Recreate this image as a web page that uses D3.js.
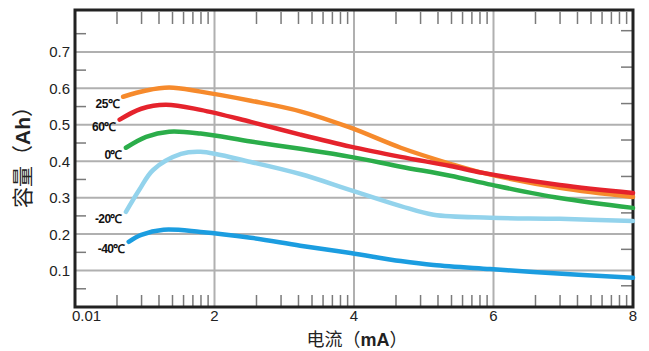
<!DOCTYPE html>
<html>
<head>
<meta charset="utf-8">
<script src="https://cdn.jsdelivr.net/npm/d3@7"></script>
<style>
  body { margin: 0; background: #fff; }
  svg { display: block; }
</style>
</head>
<body>
<svg id="chart" width="649" height="351"></svg>
<script>
// capacity (Ah) vs current (mA)
const s25 = [[0.69, 0.577], [1.02, 0.594], [1.35, 0.602], [1.8, 0.591], [2.52, 0.566], [3.23, 0.537],
  [3.95, 0.492], [4.67, 0.437], [5.38, 0.393], [5.85, 0.368], [6.95, 0.327], [8, 0.302]];
const s60 = [[0.64, 0.514], [0.95, 0.544], [1.3, 0.555], [1.8, 0.541], [2.52, 0.508], [3.23, 0.473],
  [3.95, 0.44], [4.67, 0.412], [5.38, 0.387], [5.85, 0.368], [6.95, 0.335], [8, 0.313]];
const s0 = [[0.73, 0.437], [1.02, 0.467], [1.35, 0.481], [1.8, 0.476], [2.52, 0.454], [3.23, 0.434],
  [3.95, 0.412], [4.67, 0.385], [5.38, 0.36], [5.98, 0.335], [6.95, 0.299], [8, 0.272]];
const sm20 = [[0.73, 0.261], [0.92, 0.321], [1.12, 0.376], [1.52, 0.42], [1.8, 0.426], [2.52, 0.398],
  [3.23, 0.365], [3.95, 0.321], [4.67, 0.277], [5.14, 0.253], [5.95, 0.245], [6.95, 0.242], [8, 0.236]];
const sm40 = [[0.77, 0.179], [0.95, 0.198], [1.27, 0.212], [1.8, 0.206], [2.52, 0.19], [3.23, 0.168],
  [3.95, 0.148], [4.67, 0.126], [5.14, 0.115], [5.95, 0.104], [6.57, 0.096], [8, 0.08]];

const seriesNames = ["25℃", "60℃", "0℃", "-20℃", "-40℃"];
const seriesData = [s25, s60, s0, sm20, sm40];
const seriesColors = ["#f68a2c", "#e5232c", "#2bad4a", "#93d3ec", "#1b9de0"];

const xTicks = [0, 2, 4, 6, 8];
const xTickLabels = ["0.01", "2", "4", "6", "8"];
const yTicks = [0.1, 0.2, 0.3, 0.4, 0.5, 0.6, 0.7];

const svg = d3.select("#chart");
const plotL = 75, plotR = 633, plotT = 10, plotB = 307;

const x = d3.scaleLinear().domain([0, 8]).range([plotL, plotR]);
const y = d3.scaleLinear().domain([0, 0.815]).range([plotB, plotT]);

// grid
svg.append("g")
  .selectAll("line")
  .data(yTicks)
  .join("line")
  .attr("x1", plotL).attr("x2", plotR)
  .attr("y1", d => y(d)).attr("y2", d => y(d))
  .attr("stroke", "#b0b0b0").attr("stroke-width", 2);

svg.append("g")
  .selectAll("line")
  .data([2, 4, 6])
  .join("line")
  .attr("x1", d => x(d)).attr("x2", d => x(d))
  .attr("y1", plotT).attr("y2", plotB)
  .attr("stroke", "#b0b0b0").attr("stroke-width", 2);

// log-style minor ticks in each 2mA segment (top and bottom)
const minor = [];
[0, 2, 4, 6].forEach(s => {
  for (let k = 2; k <= 9; k++) minor.push(s + 2 * Math.log10(k));
});
const tickG = svg.append("g").attr("stroke", "#7a7a7a").attr("stroke-width", 1.5);
tickG.selectAll(".tt").data(minor).join("line").attr("class", "tt")
  .attr("x1", d => x(d)).attr("x2", d => x(d))
  .attr("y1", plotT + 2).attr("y2", plotT + 14);
tickG.selectAll(".bt").data(minor).join("line").attr("class", "bt")
  .attr("x1", d => x(d)).attr("x2", d => x(d))
  .attr("y1", plotB).attr("y2", plotB - 12);

// half-step ticks on left / right
const halves = [0.05, 0.15, 0.25, 0.35, 0.45, 0.55, 0.65, 0.75];
tickG.selectAll(".lt").data(halves).join("line").attr("class", "lt")
  .attr("x1", plotL).attr("x2", plotL + 11)
  .attr("y1", d => y(d)).attr("y2", d => y(d));
tickG.selectAll(".rt").data(halves).join("line").attr("class", "rt")
  .attr("x1", plotR).attr("x2", plotR - 12)
  .attr("y1", d => y(d) - 3).attr("y2", d => y(d) - 3);

// frame
svg.append("rect")
  .attr("x", plotL).attr("y", plotT)
  .attr("width", plotR - plotL).attr("height", plotB - plotT)
  .attr("fill", "none").attr("stroke", "#222").attr("stroke-width", 3);

// tick labels
svg.append("g")
  .selectAll("text")
  .data(yTicks)
  .join("text")
  .attr("x", 70).attr("y", d => y(d)).attr("dy", "0.36em")
  .attr("text-anchor", "end")
  .attr("font-family", "Liberation Sans, Arial, sans-serif")
  .attr("font-size", 15).attr("fill", "#222")
  .text(d => d.toFixed(1));

svg.append("g")
  .selectAll("text")
  .data(xTicks)
  .join("text")
  .attr("x", (d, i) => i === 0 ? x(d) - 3 : x(d)).attr("y", 320.5)
  .attr("text-anchor", (d, i) => i === 0 ? "start" : "middle")
  .attr("font-family", "Liberation Sans, Arial, sans-serif")
  .attr("font-size", 15).attr("fill", "#222")
  .text((d, i) => xTickLabels[i]);

// curves
const line = d3.line()
  .x(d => x(d[0])).y(d => y(d[1]))
  .curve(d3.curveCatmullRom.alpha(0.5));

svg.append("g")
  .selectAll("path")
  .data(seriesData)
  .join("path")
  .attr("d", line)
  .attr("fill", "none")
  .attr("stroke", (d, i) => seriesColors[i])
  .attr("stroke-width", 4.5)
  .attr("stroke-linecap", "round");

// curve labels next to the first point
svg.append("g")
  .selectAll("text")
  .data(seriesData)
  .join("text")
  .attr("x", d => x(d[0][0]) - 4)
  .attr("y", d => y(d[0][1]) + 11)
  .attr("text-anchor", "end")
  .attr("font-family", "Liberation Sans, Arial, sans-serif")
  .attr("font-weight", "bold")
  .attr("font-size", 12)
  .attr("letter-spacing", "-0.6")
  .attr("fill", "#111")
  .text((d, i) => seriesNames[i]);

// axis titles
const xt = svg.append("text")
  .attr("x", 357).attr("y", 345.5)
  .attr("text-anchor", "middle")
  .attr("font-size", 18).attr("fill", "#222")
  .attr("font-family", "Noto Sans CJK SC, sans-serif");
xt.append("tspan").text("电流（");
xt.append("tspan").attr("font-family", "Liberation Sans, Arial, sans-serif").attr("font-weight", "bold").text("mA");
xt.append("tspan").text("）");

const yt = svg.append("text")
  .attr("transform", "translate(30,152) rotate(-90)")
  .attr("text-anchor", "middle")
  .attr("font-size", 21).attr("fill", "#222")
  .attr("font-family", "Noto Sans CJK SC, sans-serif");
yt.append("tspan").text("容量（");
yt.append("tspan").attr("font-family", "Liberation Sans, Arial, sans-serif").attr("font-weight", "bold").text("Ah");
yt.append("tspan").text("）");
</script>
</body>
</html>
